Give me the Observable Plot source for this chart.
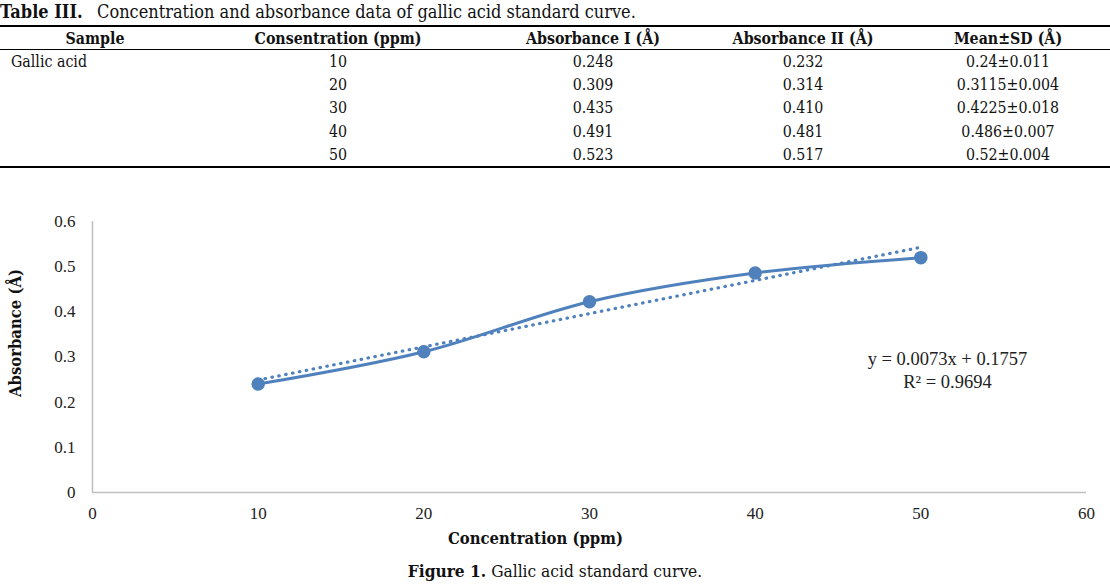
<!DOCTYPE html>
<html>
<head>
<meta charset="utf-8">
<script src="https://cdn.jsdelivr.net/npm/d3@7"></script>
<script src="https://cdn.jsdelivr.net/npm/@observablehq/plot@0.6"></script>
<style>
  html, body { margin: 0; padding: 0; background: #fff; }
  body { width: 1110px; height: 586px; position: relative; overflow: hidden; font-family: "DejaVu Serif Condensed", "DejaVu Serif", serif; color: #111; }
  #title { position: absolute; left: 0; top: 1px; font-size: 18px; white-space: nowrap; }
  #title b { display: inline-block; width: 97px; }
  #tbl { position: absolute; left: 0; top: 25px; width: 1110px; border-collapse: collapse; font-size: 15.8px; table-layout: fixed; }
  #tbl th { font-weight: bold; height: 22px; padding: 0; border-top: 2px solid #000; border-bottom: 1px solid #000; text-align: center; }
  #tbl td { height: 23.2px; padding: 0; text-align: center; }
  #tbl td.first { text-align: left; padding-left: 11px; }
  #tbl tr.last td { border-bottom: 2px solid #000; }
  #chart { position: absolute; left: 0; top: 175px; }
  #caption { position: absolute; left: 0; width: 1110px; top: 561px; text-align: center; font-size: 17.2px; }
</style>
</head>
<body>
<div id="title"></div>
<table id="tbl"></table>
<div id="chart"></div>
<div id="caption"></div>
<script>
// ---- data ----
const tableNumber = "Table III.";
const tableTitle = "Concentration and absorbance data of gallic acid standard curve.";
const headers = ["Sample", "Consentration (ppm)", "Absorbance I (Å)", "Absorbance II (Å)", "Mean±SD (Å)"];
const sampleName = "Gallic acid";
const concentrations = [10, 20, 30, 40, 50];
const absorbanceI = ["0.248", "0.309", "0.435", "0.491", "0.523"];
const absorbanceII = ["0.232", "0.314", "0.410", "0.481", "0.517"];
const meanValues = [0.24, 0.3115, 0.4225, 0.486, 0.52];
const sdValues = ["0.011", "0.004", "0.018", "0.007", "0.004"];
const xTicks = [0, 10, 20, 30, 40, 50, 60];
const yTicks = [0, 0.1, 0.2, 0.3, 0.4, 0.5, 0.6];
const xLabel = "Concentration (ppm)";
const yLabel = "Absorbance (Å)";
const equationText = "y = 0.0073x + 0.1757\nR² = 0.9694";
const captionBold = "Figure 1.";
const captionText = " Gallic acid standard curve.";

// ---- title & table ----
document.getElementById("title").innerHTML = `<b>${tableNumber}</b>${tableTitle}`;
const colWidths = [190, 296, 214, 206, 204];
let html = "<colgroup>" + colWidths.map(w => `<col style="width:${w}px">`).join("") + "</colgroup>";
html += "<tr>" + headers.map(h => `<th>${h}</th>`).join("") + "</tr>";
concentrations.forEach((c, i) => {
  html += `<tr class="${i === concentrations.length - 1 ? "last" : ""}">` +
    `<td class="first">${i === 0 ? sampleName : ""}</td>` +
    `<td>${c}</td><td>${absorbanceI[i]}</td><td>${absorbanceII[i]}</td>` +
    `<td>${meanValues[i]}±${sdValues[i]}</td></tr>`;
});
document.getElementById("tbl").innerHTML = html;

// ---- chart ----
const data = concentrations.map((x, i) => ({x, y: meanValues[i]}));
const blue = "#4f81bd";
const axisGray = "#bfbfbf";
const labelFont = "DejaVu Serif Condensed, DejaVu Serif, serif";

const chart = Plot.plot({
  width: 1110,
  height: 390,
  marginLeft: 92,
  marginRight: 24,
  marginTop: 46,
  marginBottom: 73,
  style: { fontFamily: "Liberation Serif, serif", fontSize: "17px", color: "#222", background: "transparent" },
  x: { domain: [0, 60], ticks: xTicks },
  y: { domain: [0, 0.6], ticks: yTicks },
  marks: [
    Plot.ruleY([0], { stroke: axisGray, strokeWidth: 1.5 }),
    Plot.ruleX([0], { stroke: axisGray, strokeWidth: 1.5 }),
    Plot.axisX({ ticks: xTicks, tickSize: 0, tickPadding: 14, label: null, tickFormat: d3.format("d") }),
    Plot.axisY({ ticks: yTicks, tickSize: 0, tickPadding: 17, label: null, tickFormat: d => String(+d.toFixed(1)) }),
    Plot.linearRegressionY(data, { x: "x", y: "y", ci: 0, stroke: blue, strokeWidth: 3.2, strokeDasharray: "0.5 6.5", strokeLinecap: "round" }),
    Plot.line(data, { x: "x", y: "y", stroke: blue, strokeWidth: 3, curve: "catmull-rom" }),
    Plot.dot(data, { x: "x", y: "y", r: 6, fill: blue, stroke: blue }),
    Plot.text([equationText], { frameAnchor: "right", dx: -139, dy: 12, textAnchor: "middle", lineAnchor: "middle", lineHeight: 1.25, fontSize: 18.5, fill: "#222" }),
    Plot.text([xLabel], { frameAnchor: "bottom", dx: -54, dy: 51, textAnchor: "middle", fontWeight: "bold", fontSize: 16.5, fontFamily: labelFont, fill: "#111" }),
    Plot.text([yLabel], { frameAnchor: "left", dx: -77, dy: -24, rotate: -90, textAnchor: "middle", fontWeight: "bold", fontSize: 16.5, fontFamily: labelFont, fill: "#111" })
  ]
});
document.getElementById("chart").appendChild(chart);

document.getElementById("caption").innerHTML = `<b>${captionBold}</b>${captionText}`;
</script>
</body>
</html>
